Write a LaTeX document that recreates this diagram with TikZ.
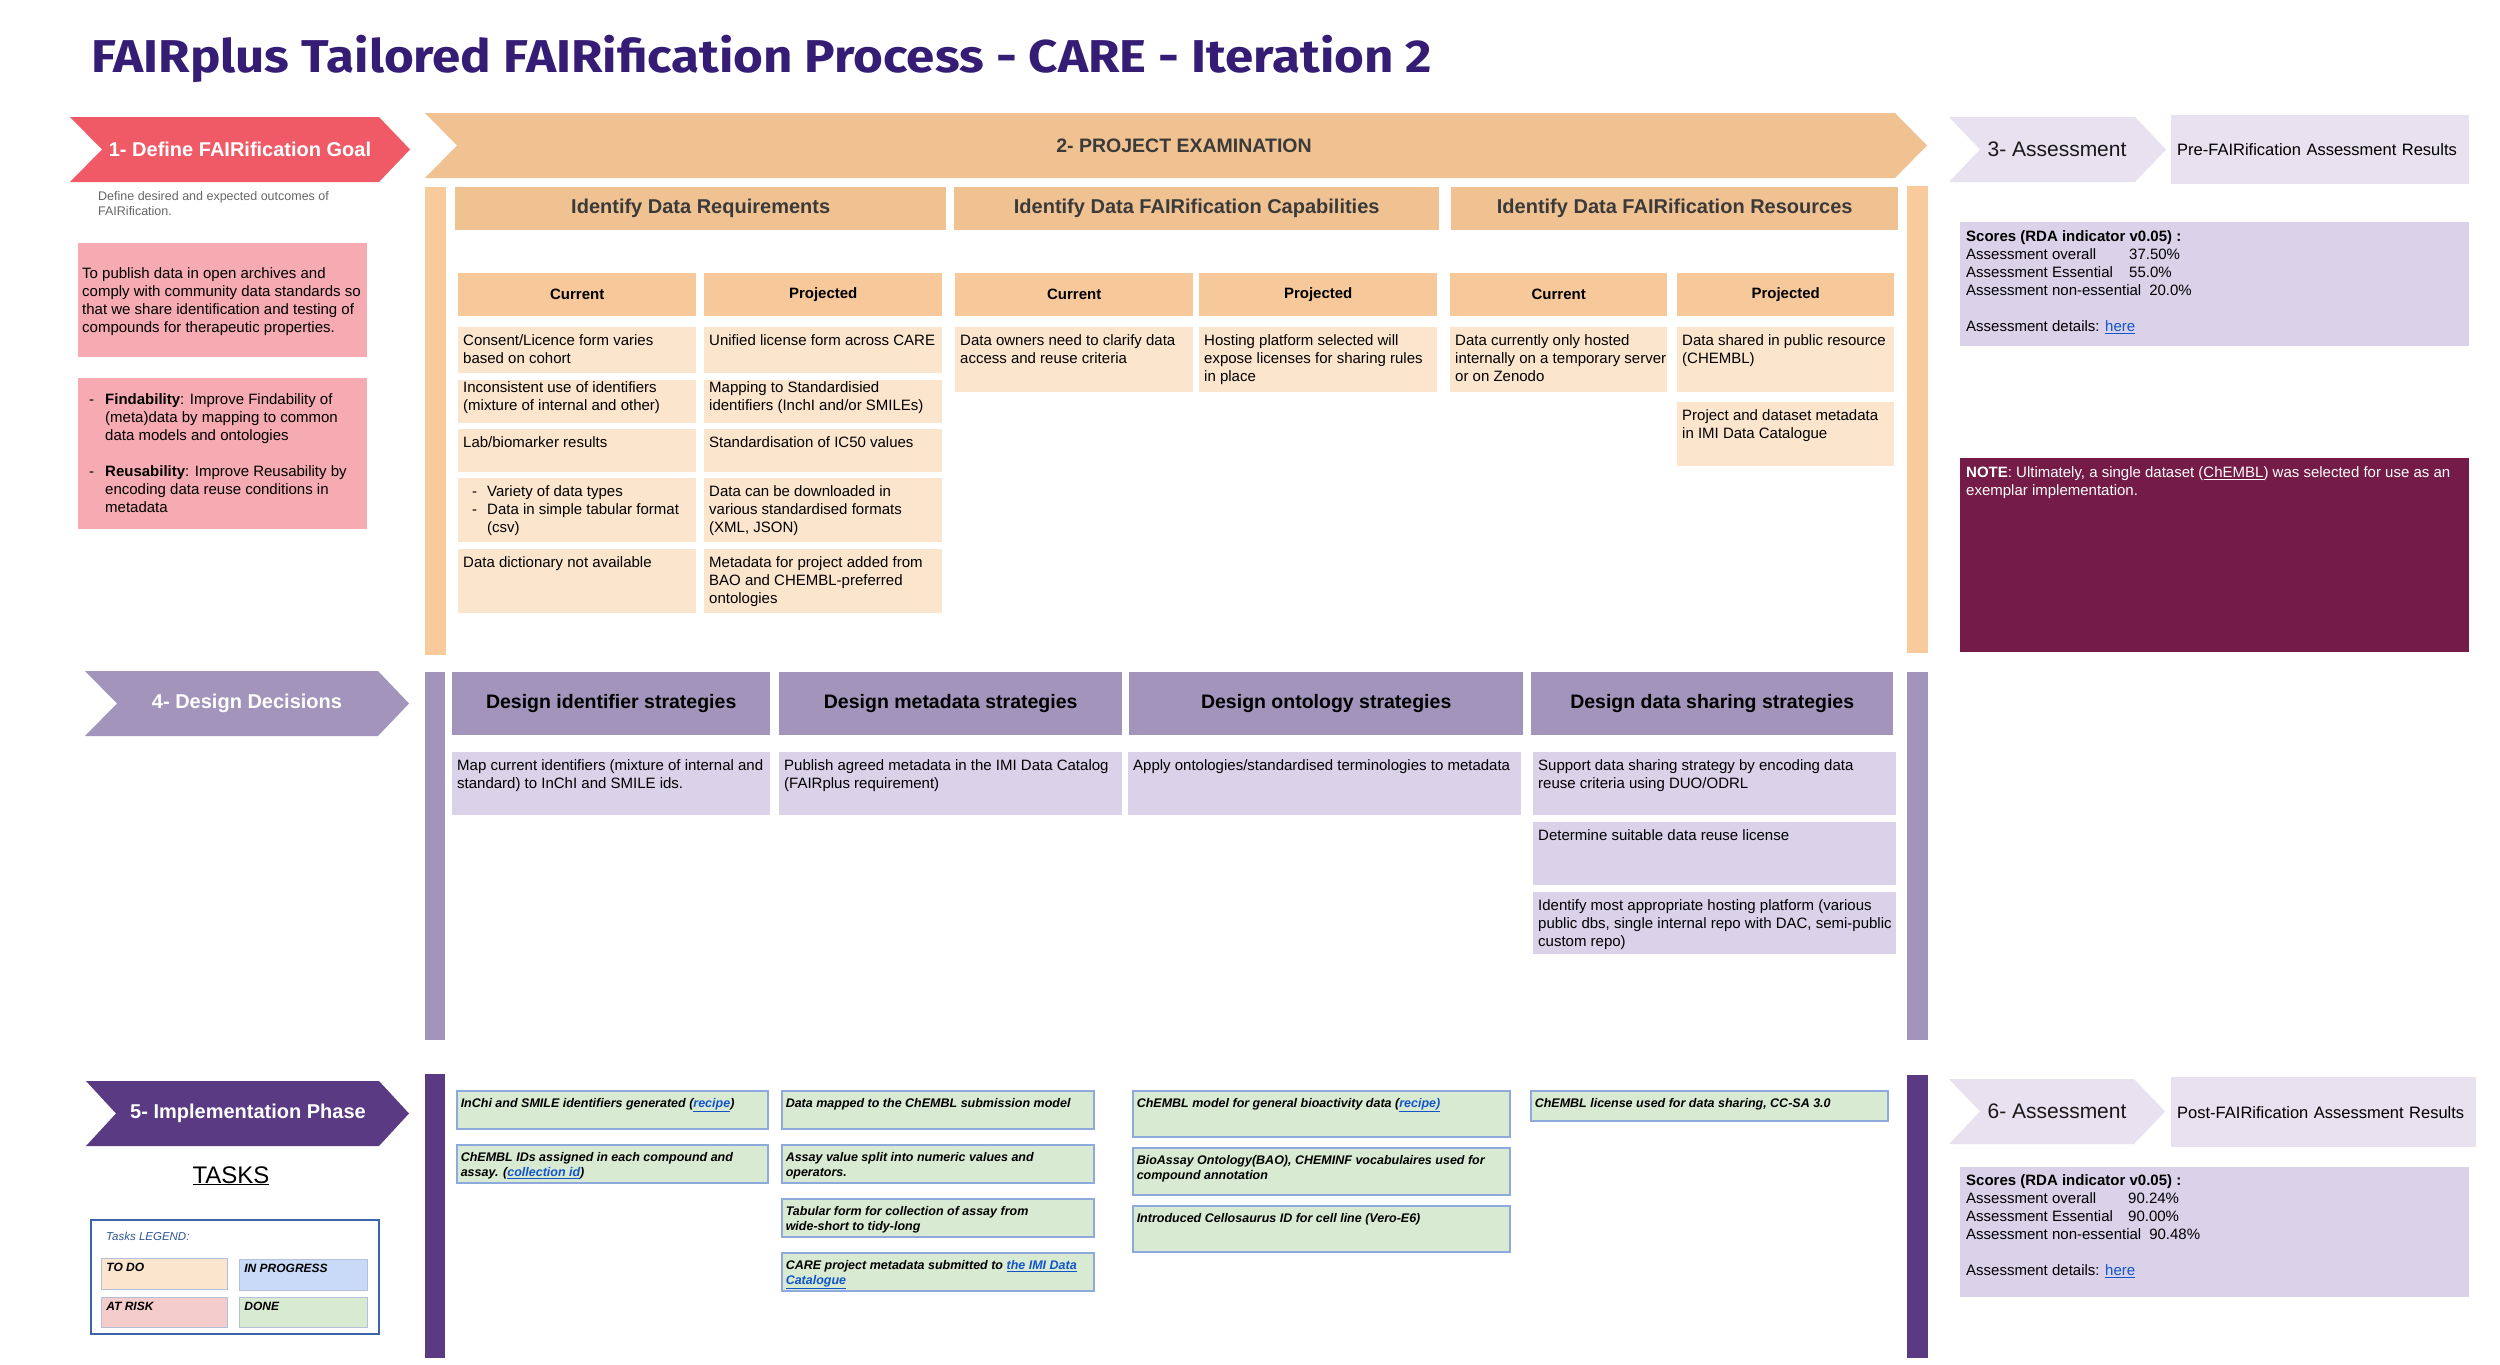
\documentclass[tikz,border=0pt]{standalone}
\usepackage{fontspec}
\setmainfont{Liberation Sans}
\newfontfamily\titlefont{Fira Sans}[FakeStretch=1.11]
\definecolor{titlecol}{HTML}{351C75}
\definecolor{goalred}{HTML}{F05A66}
\definecolor{goalpink}{HTML}{F5ABB1}
\definecolor{orban}{HTML}{F1C291}
\definecolor{orcol}{HTML}{F7C899}
\definecolor{orcell}{HTML}{FCE5CD}
\definecolor{orbar}{HTML}{F9CB9C}
\definecolor{headgray}{HTML}{3A3A3A}
\definecolor{lavlight}{HTML}{E7E1F0}
\definecolor{lavcell}{HTML}{D9D2E9}
\definecolor{lavhead}{HTML}{A294BA}
\definecolor{plum}{HTML}{741B47}
\definecolor{impl}{HTML}{5A3A82}
\definecolor{donegreen}{HTML}{D9EAD3}
\definecolor{taskline}{HTML}{8EA9DB}
\definecolor{todo}{HTML}{FCE5CD}
\definecolor{inprog}{HTML}{C9DAF8}
\definecolor{atrisk}{HTML}{F4CCCC}
\definecolor{legblue}{HTML}{3C64AA}
\definecolor{legline}{HTML}{B4C0D8}
\definecolor{legtext}{HTML}{2F5597}
\definecolor{linkblue}{HTML}{1155CC}
\definecolor{notegray}{HTML}{666666}

\newcommand{\bodyfs}{\fontsize{15}{18}\selectfont}
\newcommand{\taskfs}{\fontsize{12.5}{15}\selectfont}
\newcommand{\cellbox}[3]{\parbox[t][#2pt][t]{#1pt}{\begin{tabular}[t]{@{}l@{}}#3\end{tabular}}}
\newcommand{\weblink}[1]{\textcolor{linkblue}{\underline{#1}}}

\begin{document}
\begin{tikzpicture}[x=1pt, y=-1pt,
  every node/.style={inner sep=0pt},
  chevlabel/.style={text=white, font=\bfseries\fontsize{20}{24}\selectfont},
  asslabel/.style={text=black!90, font=\fontsize{21}{25}\selectfont},
  sechead/.style={fill=orban, text=headgray, font=\bfseries\fontsize{20}{23}\selectfont, anchor=north west, minimum height=43pt},
  colhead/.style={fill=orcol, font=\bfseries\bodyfs, anchor=north west, minimum height=43pt},
  reqcell/.style={fill=orcell, anchor=north west, inner xsep=5pt, inner ysep=6pt, font=\bodyfs},
  pinkbox/.style={fill=goalpink, anchor=north west, inner xsep=4pt, font=\bodyfs},
  deshead/.style={fill=lavhead, font=\bfseries\fontsize{19.5}{23}\selectfont, anchor=north west, minimum height=63pt},
  descell/.style={fill=lavcell, anchor=north west, inner xsep=5pt, inner ysep=6pt, font=\bodyfs},
  scorebox/.style={fill=lavcell, anchor=north west, inner xsep=6pt, font=\bodyfs},
  reshead/.style={fill=lavlight, anchor=north west, inner xsep=6pt, text width=286pt, font=\fontsize{16.5}{20}\selectfont},
  task/.style={anchor=north west, fill=donegreen, draw=taskline, line width=1.5pt, inner xsep=4pt, inner ysep=6pt, font=\bfseries\itshape\taskfs},
  legcell/.style={anchor=north west, draw=legline, line width=0.8pt, inner xsep=5pt, inner ysep=3pt, font=\bfseries\itshape\fontsize{12}{14}\selectfont}
]
\fill[white] (0,0) rectangle (2500,1365);
\useasboundingbox (0,0) rectangle (2500,1365);

\node[anchor=base west, text=titlecol, font=\titlefont\bfseries\fontsize{46}{54}\selectfont] (title) at (91,72) {FAIRplus Tailored FAIRification Process - CARE - Iteration 2};

% 1- Define goal
\fill[goalred] (70,117) -- (379,117) -- (410,149.5) -- (379,182) -- (70,182) -- (102,149.5) -- cycle;
\node[chevlabel] (goal) at (240,149.5) {1- Define FAIRification Goal};
\node[anchor=base west, text=notegray, font=\fontsize{12.5}{15}\selectfont] (goaldesc) at (98,200) {\begin{tabular}[t]{@{}l@{}}Define desired and expected outcomes of\\FAIRification.\end{tabular}};
\node[pinkbox, inner ysep=23pt] (goaltext) at (78,243) {\cellbox{281}{68}{To publish data in open archives and\\comply with community data standards so\\that we share identification and testing of\\compounds for therapeutic properties.}};
\node[pinkbox, inner ysep=14pt] (goalaims) at (78,378) {\cellbox{281}{123}{\makebox[23pt][l]{\hspace{7pt}-}\textbf{Findability}: Improve Findability of\\\hspace*{23pt}(meta)data by mapping to common\\\hspace*{23pt}data models and ontologies\\ \\\makebox[23pt][l]{\hspace{7pt}-}\textbf{Reusability}: Improve Reusability by\\\hspace*{23pt}encoding data reuse conditions in\\\hspace*{23pt}metadata}};

% 2- Project examination
\fill[orban] (425,113) -- (1895,113) -- (1927,145.5) -- (1895,178) -- (425,178) -- (457,145.5) -- cycle;
\node[text=headgray, font=\bfseries\fontsize{19.5}{23}\selectfont] (exam) at (1184,145.5) {2- PROJECT EXAMINATION};
\fill[orbar] (425,187) rectangle (446,655);
\fill[orbar] (1907,186) rectangle (1928,653);

\node[sechead, minimum width=491pt] (reqhead) at (455,187) {Identify Data Requirements};
\node[sechead, minimum width=485pt] (caphead) at (954,187) {Identify Data FAIRification Capabilities};
\node[sechead, minimum width=447pt] (reshead) at (1451,187) {Identify Data FAIRification Resources};

\node[colhead, minimum width=238pt] (reqcur) at (458,273) {Current};
\node[colhead, minimum width=238pt] (reqpro) at (704,273) {Projected};
\node[colhead, minimum width=238pt] (capcur) at (955,273) {Current};
\node[colhead, minimum width=238pt] (cappro) at (1199,273) {Projected};
\node[colhead, minimum width=217pt] (rescur) at (1450,273) {Current};
\node[colhead, minimum width=217pt] (respro) at (1677,273) {Projected};

\node[reqcell] (reqc1) at (458,327) {\cellbox{228}{34}{Consent/Licence form varies\\based on cohort}};
\node[reqcell] (reqp1) at (704,327) {\cellbox{228}{34}{Unified license form across CARE}};
\node[reqcell, inner ysep=0pt] (reqc2) at (458,380) {\cellbox{228}{43}{Inconsistent use of identifiers\\(mixture of internal and other)}};
\node[reqcell, inner ysep=0pt] (reqp2) at (704,380) {\cellbox{228}{43}{Mapping to Standardisied\\identifiers (InchI and/or SMILEs)}};
\node[reqcell] (reqc3) at (458,429) {\cellbox{228}{31}{Lab/biomarker results}};
\node[reqcell] (reqp3) at (704,429) {\cellbox{228}{31}{Standardisation of IC50 values}};
\node[reqcell] (reqc4) at (458,478) {\cellbox{228}{52}{\makebox[24pt][l]{\hspace{9pt}-}Variety of data types\\\makebox[24pt][l]{\hspace{9pt}-}Data in simple tabular format\\\hspace*{24pt}(csv)}};
\node[reqcell] (reqp4) at (704,478) {\cellbox{228}{52}{Data can be downloaded in\\various standardised formats\\(XML, JSON)}};
\node[reqcell] (reqc5) at (458,549) {\cellbox{228}{52}{Data dictionary not available}};
\node[reqcell] (reqp5) at (704,549) {\cellbox{228}{52}{Metadata for project added from\\BAO and CHEMBL-preferred\\ontologies}};

\node[reqcell] (capc1) at (955,327) {\cellbox{228}{53}{Data owners need to clarify data\\access and reuse criteria}};
\node[reqcell] (capp1) at (1199,327) {\cellbox{228}{53}{Hosting platform selected will\\expose licenses for sharing rules\\in place}};

\node[reqcell] (resc1) at (1450,327) {\cellbox{207}{53}{Data currently only hosted\\internally on a temporary server\\or on Zenodo}};
\node[reqcell] (resp1) at (1677,327) {\cellbox{207}{53}{Data shared in public resource\\(CHEMBL)}};
\node[reqcell] (resp2) at (1677,402) {\cellbox{207}{52}{Project and dataset metadata\\in IMI Data Catalogue}};

% 3- Assessment
\fill[lavlight] (1949,117) -- (2135,117) -- (2166,149.5) -- (2135,182) -- (1949,182) -- (1980,149.5) -- cycle;
\node[asslabel] (assess) at (2057,149.5) {3- Assessment};
\node[reshead, minimum height=69pt] (preres) at (2171,115) {Pre-FAIRification Assessment Results};
\node[scorebox, inner ysep=7pt] (prescore) at (1960,222) {\cellbox{497}{110}{\textbf{Scores (RDA indicator v0.05) :}\\\makebox[163pt][l]{Assessment overall}37.50\%\\\makebox[163pt][l]{Assessment Essential}55.0\%\\Assessment non-essential\hspace{8pt}20.0\%\\ \\Assessment details: \weblink{here}}};
\node[scorebox, fill=plum, text=white, inner ysep=7pt] (note) at (1960,458) {\cellbox{497}{180}{\textbf{NOTE}: Ultimately, a single dataset (\underline{ChEMBL}) was selected for use as an\\exemplar implementation.}};

% 4- Design decisions
\fill[lavhead] (85,671) -- (378,671) -- (409,703.5) -- (378,736) -- (85,736) -- (117,703.5) -- cycle;
\node[chevlabel] (design) at (247,703.5) {4- Design Decisions};
\fill[lavhead] (425,672) rectangle (445,1040);
\fill[lavhead] (1907,672) rectangle (1928,1040);

\node[deshead, minimum width=318pt] (idhead) at (452,672) {Design identifier strategies};
\node[deshead, minimum width=343pt] (metahead) at (779,672) {Design metadata strategies};
\node[deshead, minimum width=394pt] (ontohead) at (1129,672) {Design ontology strategies};
\node[deshead, minimum width=362pt] (sharehead) at (1531,672) {Design data sharing strategies};

\node[descell] (idcell) at (452,752) {\cellbox{308}{51}{Map current identifiers (mixture of internal and\\standard) to InChI and SMILE ids.}};
\node[descell] (metacell) at (779,752) {\cellbox{333}{51}{Publish agreed metadata in the IMI Data Catalog\\(FAIRplus requirement)}};
\node[descell] (ontocell) at (1128,752) {\cellbox{383}{51}{Apply ontologies/standardised terminologies to metadata}};
\node[descell] (sharecell1) at (1533,752) {\cellbox{353}{51}{Support data sharing strategy by encoding data\\reuse criteria using DUO/ODRL}};
\node[descell] (sharecell2) at (1533,822) {\cellbox{353}{51}{Determine suitable data reuse license}};
\node[descell] (sharecell3) at (1533,892) {\cellbox{353}{50}{Identify most appropriate hosting platform (various\\public dbs, single internal repo with DAC, semi-public\\custom repo)}};

% 5- Implementation
\fill[impl] (86,1081) -- (379,1081) -- (409,1113.5) -- (379,1146) -- (86,1146) -- (116,1113.5) -- cycle;
\node[chevlabel] (implement) at (248,1113.5) {5- Implementation Phase};
\node[anchor=base, font=\fontsize{24}{28}\selectfont] (tasks) at (231,1183) {\underline{TASKS}};

\draw[legblue, line width=2pt] (91,1220) rectangle (379,1334);
\node[anchor=base west, text=legtext, font=\itshape\fontsize{11.5}{14}\selectfont] (legtitle) at (106,1240) {Tasks LEGEND:};
\node[legcell, fill=todo] (legtodo) at (101,1258) {\cellbox{116}{25}{TO DO}};
\node[legcell, fill=inprog] (legprog) at (239,1259) {\cellbox{118}{25}{IN PROGRESS}};
\node[legcell, fill=atrisk] (legrisk) at (101,1297) {\cellbox{116}{24}{AT RISK}};
\node[legcell, fill=donegreen] (legdone) at (239,1297) {\cellbox{118}{24}{DONE}};

\fill[impl] (425,1074) rectangle (445,1358);
\fill[impl] (1907,1075) rectangle (1928,1358);

\node[task] (idtask1) at (456,1090) {\cellbox{303}{26}{InChi and SMILE identifiers generated (\weblink{recipe})}};
\node[task] (idtask2) at (456,1144) {\cellbox{303}{26}{ChEMBL IDs assigned in each compound and\\assay. (\weblink{collection id})}};
\node[task] (metatask1) at (781,1090) {\cellbox{304}{26}{Data mapped to the ChEMBL submission model}};
\node[task] (metatask2) at (781,1144) {\cellbox{304}{26}{Assay value split into numeric values and\\operators.}};
\node[task] (metatask3) at (781,1198) {\cellbox{304}{26}{Tabular form for collection of assay from\\wide-short to tidy-long}};
\node[task] (metatask4) at (781,1252) {\cellbox{304}{26}{CARE project metadata submitted to \weblink{the IMI Data}\\\weblink{Catalogue}}};
\node[task] (ontotask1) at (1132,1090) {\cellbox{369}{34}{ChEMBL model for general bioactivity data (\weblink{recipe)}}};
\node[task] (ontotask2) at (1132,1147) {\cellbox{369}{35}{BioAssay Ontology(BAO), CHEMINF vocabulaires used for\\compound annotation}};
\node[task] (ontotask3) at (1132,1205) {\cellbox{369}{34}{Introduced Cellosaurus ID for cell line (Vero-E6)}};
\node[task] (sharetask1) at (1530,1090) {\cellbox{349}{18}{ChEMBL license used for data sharing, CC-SA 3.0}};

% 6- Assessment
\fill[lavlight] (1949,1079) -- (2134,1079) -- (2165,1111.5) -- (2134,1144) -- (1949,1144) -- (1980,1111.5) -- cycle;
\node[asslabel] (reassess) at (2057,1111.5) {6- Assessment};
\node[reshead, minimum height=70pt, text width=293pt] (postres) at (2171,1077) {Post-FAIRification Assessment Results};
\node[scorebox, inner ysep=6pt] (postscore) at (1960,1167) {\cellbox{497}{118}{\textbf{Scores (RDA indicator v0.05) :}\\\makebox[162pt][l]{Assessment overall}90.24\%\\\makebox[162pt][l]{Assessment Essential}90.00\%\\Assessment non-essential\hspace{8pt}90.48\%\\ \\Assessment details: \weblink{here}}};
\end{tikzpicture}
\end{document}
